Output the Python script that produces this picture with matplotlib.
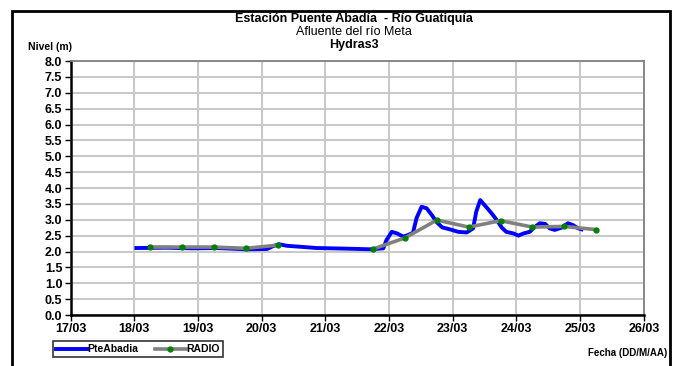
import numpy as np
import pandas as pd
import matplotlib
matplotlib.use("Agg")
import matplotlib.pyplot as plt
import matplotlib.dates as mdates
from matplotlib.patches import Rectangle

plt.rcParams['font.family'] = ['Liberation Sans', 'DejaVu Sans']

YEAR = "2012"

# Nivel PteAbadia (sensor)
pte_fecha = ["18/03 00:45", "18/03 12:00", "18/03 22:00", "19/03 07:00", "19/03 18:15",
             "20/03 02:00", "20/03 04:20", "20/03 06:30", "20/03 09:30", "20/03 14:30",
             "20/03 20:40", "21/03 08:00", "21/03 16:50", "21/03 21:50", "21/03 23:00",
             "22/03 01:00", "22/03 03:00", "22/03 05:20", "22/03 07:10", "22/03 09:00",
             "22/03 10:20", "22/03 12:15", "22/03 14:10", "22/03 16:05", "22/03 18:00",
             "22/03 20:00", "22/03 22:50", "23/03 02:00", "23/03 05:15", "23/03 07:40",
             "23/03 08:50", "23/03 10:20", "23/03 12:00", "23/03 14:40", "23/03 16:35",
             "23/03 18:30", "23/03 20:10", "23/03 22:50", "24/03 00:45", "24/03 02:40",
             "24/03 05:00", "24/03 07:00", "24/03 08:50", "24/03 10:50", "24/03 12:30",
             "24/03 14:25", "24/03 17:00", "24/03 19:25", "24/03 21:20", "24/03 23:15",
             "25/03 00:30"]
pte_nivel = [2.11, 2.12, 2.10, 2.11, 2.07,
             2.08, 2.17, 2.23, 2.18, 2.15,
             2.11, 2.09, 2.07, 2.10, 2.36,
             2.62, 2.57, 2.47, 2.52, 2.59,
             3.05, 3.41, 3.36, 3.15, 2.92,
             2.76, 2.70, 2.62, 2.60, 2.73,
             3.25, 3.62, 3.46, 3.20, 2.99,
             2.75, 2.62, 2.57, 2.50, 2.57,
             2.62, 2.78, 2.89, 2.87, 2.73,
             2.68, 2.75, 2.89, 2.83, 2.73,
             2.70]

# Lecturas por radio (cada 12 h, sin dato el 20/03 18h y 21/03 06h)
radio_fecha = ["18/03 06:00", "18/03 18:00", "19/03 06:00", "19/03 18:00", "20/03 06:00",
               "20/03 18:00", "21/03 06:00", "21/03 18:00", "22/03 06:00", "22/03 18:00",
               "23/03 06:00", "23/03 18:00", "24/03 06:00", "24/03 18:00", "25/03 06:00"]
radio_nivel = [2.14, 2.14, 2.14, 2.10, 2.20,
               np.nan, np.nan, 2.08, 2.43, 2.99,
               2.77, 2.97, 2.77, 2.79, 2.69]

xticks = ["17/03", "18/03", "19/03", "20/03", "21/03", "22/03", "23/03", "24/03", "25/03", "26/03"]


def fechas(lista):
    return pd.to_datetime([s.split()[0] + "/" + YEAR + " " + s.split()[1] for s in lista],
                          format="%d/%m/%Y %H:%M")


t_pte = fechas(pte_fecha)
t_radio = fechas(radio_fecha)
t_ticks = pd.to_datetime([d + "/" + YEAR for d in xticks], format="%d/%m/%Y")

fig = plt.figure(figsize=(6.77, 3.66), dpi=100)
ax = fig.add_axes([0.1044, 0.1393, 0.8466, 0.694])

ax.plot(t_pte, pte_nivel, color='#0000ff', lw=2.8, label='PteAbadia', zorder=3)
ax.plot(t_radio, radio_nivel, color='#808080', lw=2.6, marker='o', ms=3.5,
        mfc='#008000', mec='#008000', label='RADIO', zorder=4)

ax.set_xlim(t_ticks[0], t_ticks[-1])
ax.set_xticks(t_ticks)
ax.xaxis.set_major_formatter(mdates.DateFormatter('%d/%m'))
ax.set_ylim(0, 8)
ax.set_yticks(np.arange(0, 8.01, 0.5))
ax.yaxis.set_major_formatter(plt.FuncFormatter(lambda v, p: f"{v:.1f}"))

ax.grid(True, color='#c8c8c8', lw=1.4)
ax.set_axisbelow(True)
for s in ['top', 'right']:
    ax.spines[s].set_color('#808080')
    ax.spines[s].set_linewidth(1.3)
for s in ['left', 'bottom']:
    ax.spines[s].set_color('black')
    ax.spines[s].set_linewidth(1.8)
ax.tick_params(direction='out', length=4, width=1, colors='black', labelsize=9, pad=2)
for lab in ax.get_xticklabels() + ax.get_yticklabels():
    lab.set_fontweight('bold')

fig.text(0.523, 0.948, 'Estación Puente Abadía  - Río Guatiquía', ha='center', va='center',
         fontsize=9, fontweight='bold')
fig.text(0.523, 0.913, 'Afluente del río Meta', ha='center', va='center', fontsize=9)
fig.text(0.523, 0.876, 'Hydras3', ha='center', va='center', fontsize=9, fontweight='bold')
fig.text(0.074, 0.872, 'Nivel (m)', ha='center', va='center', fontsize=7.5, fontweight='bold')
fig.text(0.985, 0.035, 'Fecha (DD/M/AA)', ha='right', va='center', fontsize=7, fontweight='bold')

leg = fig.legend(loc='center left', bbox_to_anchor=(0.078, 0.046), ncol=2, fontsize=7.5,
                 frameon=True, fancybox=False, edgecolor='black', handlelength=3,
                 handletextpad=0.0, columnspacing=1.6, borderpad=0.3, borderaxespad=0)
leg.get_frame().set_linewidth(1.2)
for t in leg.get_texts():
    t.set_fontweight('bold')

fig.patches.append(Rectangle((12 / 677, -0.02), (670 - 12) / 677, (366 - 11) / 366 + 0.02,
                             transform=fig.transFigure, fill=False, edgecolor='black', lw=2))

fig.savefig('out.png', dpi=100)
